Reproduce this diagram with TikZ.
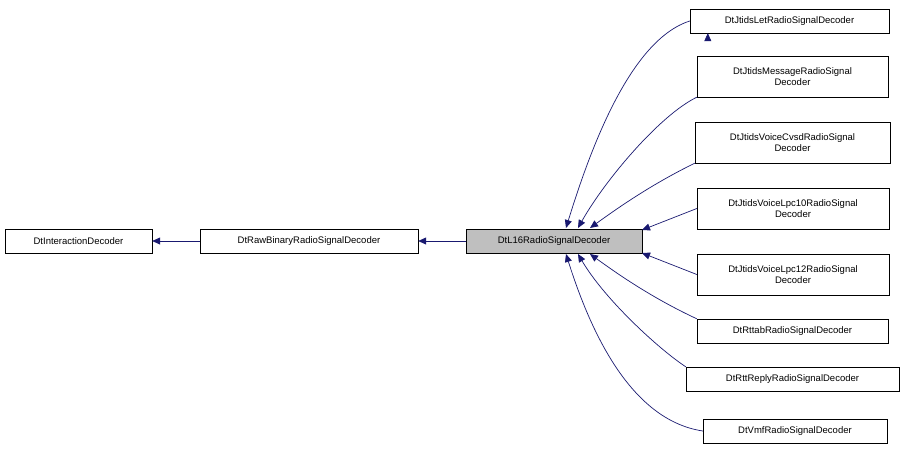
\documentclass[tikz,border=0pt]{standalone}
\usepackage{fontspec}
\setmainfont{Liberation Sans}
\usetikzlibrary{arrows.meta}
\begin{document}
\begin{tikzpicture}[x=1pt,y=-1pt,
 box/.style={draw=black,fill=white,inner sep=0pt,font=\fontsize{9.5}{11.5}\selectfont,align=center},
 e/.style={draw={rgb,255:red,25;green,25;blue,112},line width=0.7pt,-{Triangle[length=8pt,width=7pt]}}]
\useasboundingbox (0,0) rectangle (904,452);
\node[box,minimum width=147,minimum height=24] (a) at (78.5,241) {DtInteractionDecoder};
\node[box,minimum width=218,minimum height=24] (b) at (309,241) {DtRawBinaryRadioSignalDecoder};
\node[box,fill={rgb,255:red,191;green,191;blue,191},minimum width=176,minimum height=24] (c) at (554,241) {DtL16RadioSignalDecoder};
\node[box,minimum width=199,minimum height=24] (n1) at (789.5,21) {DtJtidsLetRadioSignalDecoder};
\node[box,minimum width=191,minimum height=41] (n2) at (792.5,76.5) {DtJtidsMessageRadioSignal\\Decoder};
\node[box,minimum width=195,minimum height=41] (n3) at (792.5,142.5) {DtJtidsVoiceCvsdRadioSignal\\Decoder};
\node[box,minimum width=192,minimum height=41] (n4) at (793,208.5) {DtJtidsVoiceLpc10RadioSignal\\Decoder};
\node[box,minimum width=192,minimum height=41] (n5) at (793,274.5) {DtJtidsVoiceLpc12RadioSignal\\Decoder};
\node[box,minimum width=191,minimum height=24] (n6) at (792.5,331) {DtRttabRadioSignalDecoder};
\node[box,minimum width=213,minimum height=24] (n7) at (792.5,379) {DtRttReplyRadioSignalDecoder};
\node[box,minimum width=184,minimum height=24] (n8) at (795,431) {DtVmfRadioSignalDecoder};
\draw[e] (b.west) -- (a.east);
\draw[e] (c.west) -- (b.east);
\draw[e] (n1.south west) ++(18,0) coordinate (s1);
\draw[e] (n1.west) .. controls (630,40) and (590,150) .. (566,228);
\draw[e] (n2.south west) .. controls (660,115) and (605,180) .. (578,228);
\draw[e] (n3.south west) .. controls (650,185) and (615,210) .. (590,228);
\draw[e] (n4.west) -- (642,230);
\draw[e] (n5.west) -- (642,253);
\draw[e] (n6.north west) .. controls (650,297) and (615,272) .. (590,254);
\draw[e] (n7.north west) .. controls (660,350) and (605,300) .. (578,254);
\draw[e] (n8.west) .. controls (630,420) and (590,330) .. (566,254);
\end{tikzpicture}
\end{document}
